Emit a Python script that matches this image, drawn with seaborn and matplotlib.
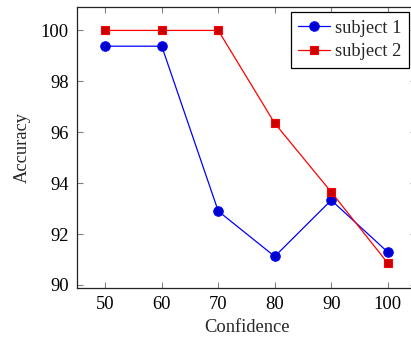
import matplotlib
matplotlib.use("Agg")
import matplotlib.pyplot as plt
import seaborn as sns
import pandas as pd

confidence = [50, 60, 70, 80, 90, 100]
subject1 = [99.38, 99.38, 92.90, 91.12, 93.33, 91.29]
subject2 = [100.0, 100.0, 100.0, 96.35, 93.65, 90.86]
series_names = ["subject 1", "subject 2"]
xticks = [50, 60, 70, 80, 90, 100]
yticks = [90, 92, 94, 96, 98, 100]

df = pd.DataFrame({
    "Confidence": confidence * 2,
    "Accuracy": subject1 + subject2,
    "series": [series_names[0]] * len(confidence) + [series_names[1]] * len(confidence),
})

sns.set_theme(style="ticks")
plt.rcParams["font.family"] = ["Liberation Serif", "DejaVu Serif"]

fig = plt.figure(figsize=(4.11, 3.40), dpi=100)
# axes: left 77px, right ~416px, top 7px, bottom 288px
ax = fig.add_axes([77 / 411, 1 - 288 / 340, (416 - 77) / 411, (288 - 7) / 340])

styles = {
    "subject 1": dict(color=(0, 0, 1), marker="o", mfc=(0, 0, 0.8), ms=6.8),
    "subject 2": dict(color=(1, 0, 0), marker="s", mfc=(0.8, 0, 0), ms=6.2),
}
for name in series_names:
    sub = df[df["series"] == name]
    st = styles[name]
    sns.lineplot(data=sub, x="Confidence", y="Accuracy", ax=ax, color=st["color"],
                 marker=st["marker"], markersize=st["ms"], markerfacecolor=st["mfc"],
                 markeredgecolor=st["color"], markeredgewidth=0.8, linewidth=0.9,
                 label=name, legend=False)

ax.set_xlim(45, 105)
ax.set_ylim(89.88, 100.92)
ax.set_xticks(xticks)
ax.set_yticks(yticks)
ax.tick_params(direction="in", length=4, width=0.8, color="#808080",
               top=True, right=True, labelsize=13.3, pad=6, labelcolor="black")
for s in ax.spines.values():
    s.set_linewidth(0.9)
    s.set_color("#222222")
ax.set_xlabel("Confidence", fontsize=13.3, labelpad=4)
ax.set_ylabel("Accuracy", fontsize=13.3, labelpad=7)

leg = ax.legend(loc="upper right", bbox_to_anchor=((409 - 77) / (416 - 77), (288 - 12.5) / (288 - 7)),
                fontsize=13.3, frameon=True, fancybox=False, edgecolor="black",
                framealpha=1, borderpad=0.4, handlelength=1.75, handletextpad=0.25,
                labelspacing=0.35, borderaxespad=0)
leg.get_frame().set_linewidth(0.9)

fig.savefig("out.png", dpi=100)
